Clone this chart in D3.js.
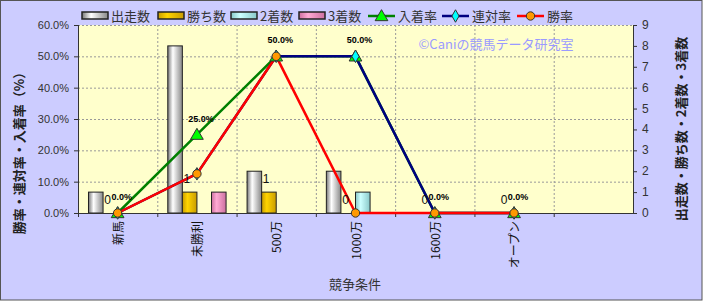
<!DOCTYPE html>
<html>
<head>
<meta charset="utf-8">
<script src="https://cdn.jsdelivr.net/npm/d3@7"></script>
<style>
body { margin: 0; background: #fff; }
text { font-family: "Liberation Sans", "Noto Sans CJK JP", sans-serif; }
.jp { font-family: "Noto Sans CJK JP", sans-serif; }
</style>
</head>
<body>
<div id="chart"></div>
<script>
// data
var categories = ['新馬', '未勝利', '500万', '1000万', '1600万', 'オープン', ''];
var starts  = [1, 8, 2, 2, 0, 0, null];
var wins    = [0, 1, 1, 0, 0, 0, null];
var seconds = [0, 0, 0, 1, 0, 0, null];
var thirds  = [0, 1, 0, 0, 0, 0, null];
var placeRate  = [0, 25, 50, 50, 0, 0];
var rentaiRate = [0, 12.5, 50, 50, 0, 0];
var winRate    = [0, 12.5, 50, 0, 0, 0];
var leftTicks  = [0, 10, 20, 30, 40, 50, 60];
var rightTicks = [0, 1, 2, 3, 4, 5, 6, 7, 8, 9];

var width = 703, height = 301;
var plot = { left: 78, right: 633, top: 25, bottom: 213 };

var svg = d3.select('#chart').append('svg').attr('width', width).attr('height', height);

svg.append('rect').attr('x', 0.5).attr('y', 0.5).attr('width', width - 1.5).attr('height', height - 1.5)
	.attr('fill', '#ccccff').attr('stroke', '#555').attr('stroke-width', 1);

svg.append('rect').attr('x', plot.left).attr('y', plot.top)
	.attr('width', plot.right - plot.left).attr('height', plot.bottom - plot.top)
	.attr('fill', '#ffffcc');

var x = d3.scaleBand().domain(categories).range([plot.left, plot.right]);
var sub = d3.scaleBand().domain([0, 1, 2, 3]).range([0, x.bandwidth()]).paddingOuter(0.72);
var yL = d3.scaleLinear().domain([0, 60]).range([plot.bottom, plot.top]);
var yR = d3.scaleLinear().domain([0, 9]).range([plot.bottom, plot.top]);
function cx(i) { return x(categories[i]) + x.bandwidth() / 2; }

// gridlines
svg.append('g').selectAll('line').data(leftTicks.slice(1)).enter().append('line')
	.attr('x1', plot.left).attr('x2', plot.right)
	.attr('y1', function (d) { return yL(d) + 0.5; }).attr('y2', function (d) { return yL(d) + 0.5; })
	.attr('stroke', '#999').attr('stroke-dasharray', '2,2');
svg.append('g').selectAll('line').data(categories.slice(1)).enter().append('line')
	.attr('x1', function (d) { return x(d) + 0.5; }).attr('x2', function (d) { return x(d) + 0.5; })
	.attr('y1', plot.top).attr('y2', plot.bottom)
	.attr('stroke', '#999').attr('stroke-dasharray', '2,2');

// gradients for bars
var defs = svg.append('defs');
var barColors = [
	['#777', '#fff', '#888'],
	['#c89c00', '#ffd400', '#c89c00'],
	['#88c8c8', '#ccffff', '#88c8c8'],
	['#cc6f9f', '#ffaad4', '#cc6f9f']
];
barColors.forEach(function (c, i) {
	var g = defs.append('linearGradient').attr('id', 'bar' + i);
	g.selectAll('stop').data([{ o: 0, c: c[0] }, { o: 0.35, c: c[1] }, { o: 1, c: c[2] }]).enter().append('stop')
		.attr('offset', function (d) { return 100 * d.o + '%'; })
		.attr('stop-color', function (d) { return d.c; });
});

// bars
var series = [starts, wins, seconds, thirds];
series.forEach(function (vals, s) {
	vals.forEach(function (d, i) {
		if (!d) return;
		svg.append('rect')
			.attr('x', x(categories[i]) + sub(s))
			.attr('y', yR(d))
			.attr('width', sub.bandwidth())
			.attr('height', yR(0) - yR(d))
			.attr('fill', 'url(#bar' + s + ')')
			.attr('stroke', '#222').attr('stroke-width', 1);
	});
});

// axes
var axisColor = '#333';
svg.append('line').attr('x1', plot.left + 0.5).attr('x2', plot.left + 0.5).attr('y1', plot.top).attr('y2', plot.bottom)
	.attr('stroke', axisColor);
svg.append('line').attr('x1', plot.right + 0.5).attr('x2', plot.right + 0.5).attr('y1', plot.top).attr('y2', plot.bottom)
	.attr('stroke', axisColor);
svg.append('line').attr('x1', plot.left).attr('x2', plot.right + 1).attr('y1', plot.bottom + 0.5).attr('y2', plot.bottom + 0.5)
	.attr('stroke', axisColor);

var gl = svg.append('g');
leftTicks.forEach(function (t) {
	gl.append('line').attr('x1', plot.left - 4).attr('x2', plot.left).attr('y1', yL(t) + 0.5).attr('y2', yL(t) + 0.5).attr('stroke', axisColor);
	gl.append('text').attr('x', plot.left - 9).attr('y', yL(t) + 4).attr('text-anchor', 'end')
		.attr('font-size', 11).attr('fill', '#333').text(t.toFixed(1) + '%');
});
rightTicks.forEach(function (t) {
	gl.append('line').attr('x1', plot.right).attr('x2', plot.right + 4).attr('y1', yR(t) + 0.5).attr('y2', yR(t) + 0.5).attr('stroke', axisColor);
	gl.append('text').attr('x', plot.right + 9).attr('y', yR(t) + 4).attr('text-anchor', 'start')
		.attr('font-size', 12).attr('fill', '#333').text(t);
});
categories.forEach(function (c, i) {
	gl.append('line').attr('x1', x(c) + 0.5).attr('x2', x(c) + 0.5).attr('y1', plot.bottom).attr('y2', plot.bottom + 4).attr('stroke', axisColor);
	if (c) {
		gl.append('text').attr('class', 'jp')
			.attr('transform', 'translate(' + (cx(i) + 5) + ',' + (plot.bottom + 8) + ') rotate(-90)')
			.attr('text-anchor', 'end').attr('font-size', 12).attr('fill', '#111').text(c);
	}
});

// axis titles
svg.append('text').attr('class', 'jp')
	.attr('transform', 'translate(24,150) rotate(-90)').attr('text-anchor', 'middle')
	.attr('font-size', 13).attr('font-weight', 'bold').attr('fill', '#222').text('勝率・連対率・入着率（%）');
svg.append('text').attr('class', 'jp')
	.attr('transform', 'translate(686,129) rotate(-90)').attr('text-anchor', 'middle')
	.attr('font-size', 13).attr('font-weight', 'bold').attr('fill', '#222').text('出走数・勝ち数・2着数・3着数');
svg.append('text').attr('class', 'jp').attr('x', 355).attr('y', 289).attr('text-anchor', 'middle')
	.attr('font-size', 13).attr('fill', '#333').text('競争条件');

// watermark
svg.append('text').attr('class', 'jp').attr('x', 496).attr('y', 49).attr('text-anchor', 'middle')
	.attr('font-size', 13).attr('fill', '#9a9aff').text('©Caniの競馬データ研究室');

// lines
var lineGen = d3.line().x(function (d, i) { return cx(i); }).y(function (d) { return yL(d); });
var lineSeries = [
	{ vals: placeRate, color: '#008000', marker: 'triangle', fill: '#00ff00' },
	{ vals: rentaiRate, color: '#000080', marker: 'diamond', fill: '#00ffff' },
	{ vals: winRate, color: '#ff0000', marker: 'circle', fill: '#ff9900' }
];
lineSeries.forEach(function (s) {
	svg.append('path').datum(s.vals).attr('d', lineGen).attr('fill', 'none')
		.attr('stroke', s.color).attr('stroke-width', 2.5);
});
function markerPath(type) {
	if (type === 'triangle') return d3.symbol().type(d3.symbolTriangle).size(70)();
	if (type === 'diamond') return d3.symbol().type(d3.symbolDiamond).size(45)();
	return d3.symbol().type(d3.symbolCircle).size(55)();
}
lineSeries.forEach(function (s) {
	svg.append('g').selectAll('path').data(s.vals).enter().append('path')
		.attr('d', markerPath(s.marker))
		.attr('transform', function (d, i) { return 'translate(' + cx(i) + ',' + (yL(d) + (s.marker === 'triangle' ? 1 : 0)) + ')'; })
		.attr('fill', s.fill).attr('stroke', '#333').attr('stroke-width', 1);
});

// data labels
svg.append('g').selectAll('text').data(wins.slice(0, 6)).enter().append('text')
	.attr('x', function (d, i) { return cx(i) - 10; }).attr('y', function (d) { return yR(d) - 9; })
	.attr('text-anchor', 'middle').attr('font-size', 12).attr('fill', '#111').text(function (d) { return d; });
svg.append('g').selectAll('text').data(placeRate).enter().append('text')
	.attr('x', function (d, i) { return cx(i) + 4; }).attr('y', function (d) { return yL(d) - 13; })
	.attr('text-anchor', 'middle').attr('font-size', 9).attr('font-weight', 'bold').attr('fill', '#000')
	.text(function (d) { return d.toFixed(1) + '%'; });

// legend
var legend = svg.append('g');
var legendBars = [
	{ x: 82, label: '出走数' }, { x: 158, label: '勝ち数' }, { x: 231, label: '2着数' }, { x: 299, label: '3着数' }
];
legendBars.forEach(function (l, i) {
	legend.append('rect').attr('x', l.x).attr('y', 12).attr('width', 26).attr('height', 7)
		.attr('fill', 'url(#bar' + i + ')').attr('stroke', '#222').attr('stroke-width', 1.5);
	legend.append('text').attr('class', 'jp').attr('x', l.x + 29).attr('y', 21)
		.attr('font-size', 13).attr('fill', '#333').text(l.label);
});
var legendLines = [
	{ x: 368, label: '入着率' }, { x: 442, label: '連対率' }, { x: 517, label: '勝率' }
];
legendLines.forEach(function (l, i) {
	var s = lineSeries[i];
	legend.append('line').attr('x1', l.x).attr('x2', l.x + 27).attr('y1', 16).attr('y2', 16)
		.attr('stroke', s.color).attr('stroke-width', 2.5);
	legend.append('path').attr('d', markerPath(s.marker))
		.attr('transform', 'translate(' + (l.x + 13.5) + ',' + (s.marker === 'triangle' ? 17 : 16) + ')')
		.attr('fill', s.fill).attr('stroke', '#333').attr('stroke-width', 1);
	legend.append('text').attr('class', 'jp').attr('x', l.x + 30).attr('y', 21)
		.attr('font-size', 13).attr('fill', '#333').text(l.label);
});
</script>
</body>
</html>
